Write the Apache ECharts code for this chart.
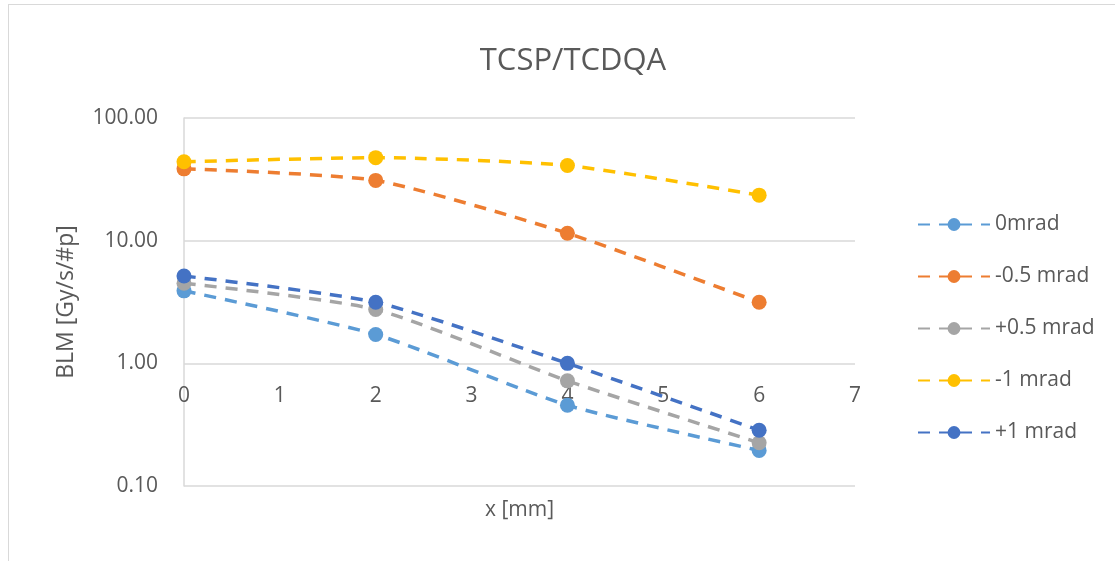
<!DOCTYPE html>
<html>
<head>
<meta charset="utf-8">
<script src="https://cdn.jsdelivr.net/npm/echarts@6/dist/echarts.min.js"></script>
<style>
html,body{margin:0;padding:0;background:#fff;}
#frame{position:absolute;left:8px;top:4px;width:1120px;height:570px;border:1px solid #d9d9d9;box-sizing:border-box;}
#chart{position:absolute;left:0;top:0;width:1115px;height:561px;}
</style>
</head>
<body>
<div id="frame"></div>
<div id="chart"></div>
<script>
const xValues = [0, 2, 4, 6];
const seriesNames = ['0mrad', '-0.5 mrad', '+0.5 mrad', '-1 mrad', '+1 mrad'];
const s0mrad = [3.9, 1.72, 0.455, 0.195];
const sMinus05 = [38.5, 31, 11.5, 3.15];
const sPlus05 = [4.5, 2.75, 0.72, 0.225];
const sMinus1 = [44, 47.5, 41, 23.5];
const sPlus1 = [5.15, 3.15, 1.0, 0.285];
const colors = ['#5B9BD5', '#ED7D31', '#A5A5A5', '#FFC000', '#4472C4'];

const allData = [s0mrad, sMinus05, sPlus05, sMinus1, sPlus1];
const FONT = '"Open Sans", Lato, sans-serif';
const gridTop = 118, gridBottom = 75, H = 561;
const gridH = H - gridTop - gridBottom;

const chart = echarts.init(document.getElementById('chart'), null, {renderer: 'canvas'});
chart.setOption({
  animation: false,
  backgroundColor: 'transparent',
  title: {
    text: 'TCSP/TCDQA', left: 568, top: 41, textAlign: 'center',
    textStyle: {fontFamily: FONT, fontSize: 31, fontWeight: 'normal', color: '#595959'}
  },
  legend: {
    orient: 'vertical', left: 912, top: 209, itemGap: 31,
    itemWidth: 72, itemHeight: 16,
    textStyle: {fontFamily: FONT, fontSize: 21, color: '#595959', padding: [0, 0, 0, 0]},
    data: seriesNames
  },
  grid: {left: 184, right: 260, top: gridTop, bottom: gridBottom},
  xAxis: [{
    type: 'value', min: 0, max: 7, interval: 1,
    offset: -gridH / 3,
    axisLine: {show: false}, axisTick: {show: false}, splitLine: {show: false},
    axisLabel: {fontFamily: FONT, fontSize: 21, color: '#595959', margin: 22}
  }, {
    type: 'value', min: 0, max: 7, position: 'bottom',
    name: 'x [mm]', nameLocation: 'middle', nameGap: 14,
    nameTextStyle: {fontFamily: FONT, fontSize: 21, color: '#595959', verticalAlign: 'top'},
    axisLine: {show: false}, axisTick: {show: false}, splitLine: {show: false},
    axisLabel: {show: false}
  }],
  yAxis: {
    type: 'log', logBase: 10, min: 0.1, max: 100,
    name: 'BLM [Gy/s/#p]', nameLocation: 'middle', nameGap: 106, nameRotate: 90,
    nameMoveOverlap: false,
    nameTextStyle: {fontFamily: FONT, fontSize: 23, color: '#595959'},
    axisLine: {show: true, lineStyle: {color: '#d9d9d9', width: 1.5}},
    axisTick: {show: false},
    splitLine: {lineStyle: {color: '#d9d9d9', width: 1.5}},
    axisLabel: {fontFamily: FONT, fontSize: 21, color: '#595959', margin: 26,
      formatter: v => Number(v).toFixed(2)}
  },
  series: seriesNames.map((name, i) => ({
    name, type: 'line', xAxisIndex: 0,
    data: xValues.map((x, j) => [x, allData[i][j]]),
    smooth: 0.2,
    symbol: 'circle', symbolSize: 15,
    lineStyle: {color: colors[i], width: 3.5, type: [12, 9]},
    itemStyle: {color: colors[i]},
    z: 2 + i
  }))
});
</script>
</body>
</html>
